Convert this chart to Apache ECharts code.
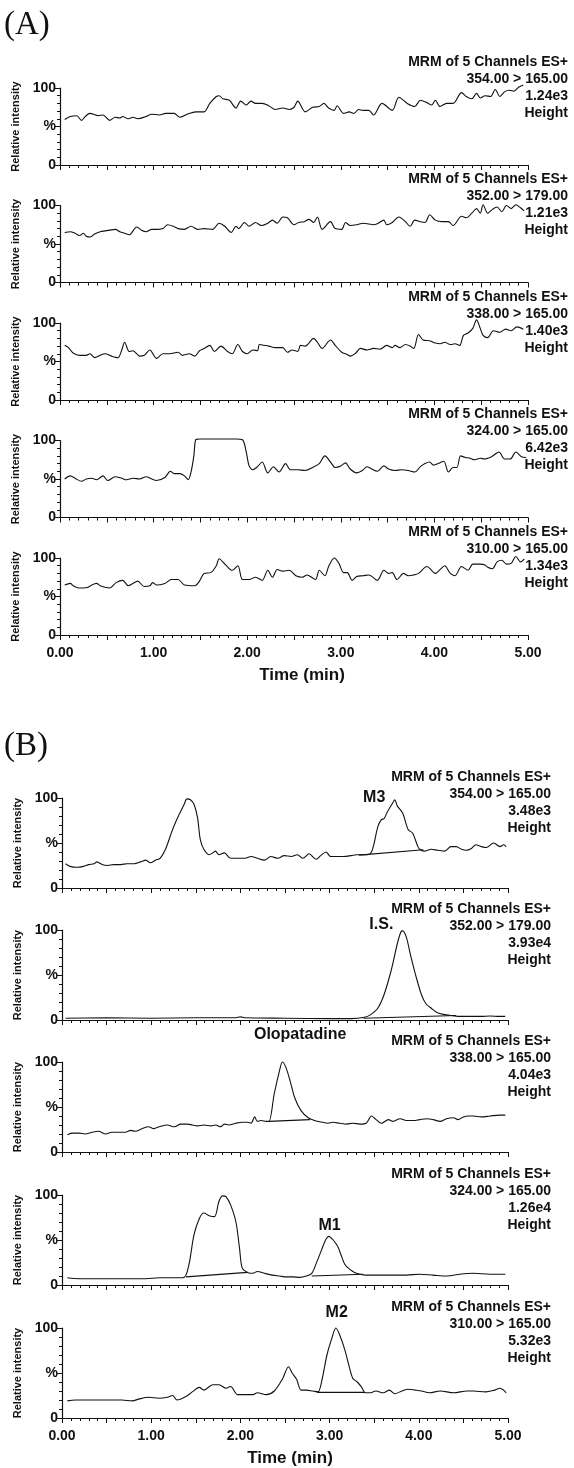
<!DOCTYPE html>
<html><head><meta charset="utf-8">
<script src="https://cdn.jsdelivr.net/npm/echarts@6/dist/echarts.min.js"></script>
<style>html,body{margin:0;padding:0;background:#fff}#c{width:574px;height:1468px}</style>
</head><body><div id="c"></div><script>
// ---------- DATA ----------
const timeTickLabels = ['0.00','1.00','2.00','3.00','4.00','5.00'];
const yTickLabels = ['0','%','100'];
const headerLine = 'MRM of 5 Channels ES+';
const channels = ['354.00 > 165.00','352.00 > 179.00','338.00 > 165.00','324.00 > 165.00','310.00 > 165.00'];
const heightsA = ['1.24e3','1.21e3','1.40e3','6.42e3','1.34e3'];
const heightsB = ['3.48e3','3.93e4','4.04e3','1.26e4','5.32e3'];

// (A) blank traces: [time(min), relative intensity %]
const traceA1 = [[0.05,59],[0.11,63],[0.18,64],[0.23,58],[0.27,63],[0.32,67],[0.41,64],[0.46,65],[0.53,58],[0.59,62],[0.64,61],[0.67,63],[0.73,60],[0.78,62],[0.83,60],[0.92,63],[0.98,66],[1.06,65],[1.13,67],[1.22,67],[1.28,62],[1.38,67],[1.45,69],[1.54,69],[1.60,80],[1.67,89],[1.70,90],[1.74,86],[1.81,84],[1.88,74],[1.93,83],[1.99,78],[2.04,83],[2.09,80],[2.16,80],[2.23,77],[2.30,72],[2.38,74],[2.45,72],[2.50,75],[2.54,83],[2.62,69],[2.70,75],[2.77,76],[2.82,80],[2.87,74],[2.93,71],[2.96,77],[3.03,67],[3.09,69],[3.14,67],[3.19,72],[3.24,71],[3.30,71],[3.35,65],[3.44,80],[3.55,71],[3.62,88],[3.71,80],[3.79,76],[3.85,84],[3.92,81],[3.97,78],[4.01,84],[4.06,76],[4.13,80],[4.20,80],[4.29,94],[4.34,89],[4.40,86],[4.45,93],[4.49,87],[4.54,90],[4.60,89],[4.65,98],[4.70,89],[4.75,95],[4.80,97],[4.85,96],[4.90,101],[4.95,104]];
const traceA2 = [[0.05,65],[0.11,66],[0.16,64],[0.21,61],[0.25,64],[0.28,60],[0.32,59],[0.37,63],[0.43,66],[0.48,67],[0.53,68],[0.59,69],[0.64,66],[0.69,64],[0.74,62],[0.82,72],[0.87,68],[0.92,66],[0.98,69],[1.05,69],[1.10,70],[1.15,75],[1.21,73],[1.26,70],[1.33,69],[1.40,73],[1.47,69],[1.54,70],[1.63,69],[1.70,77],[1.76,73],[1.83,65],[1.88,73],[1.91,70],[1.97,78],[2.02,73],[2.09,78],[2.15,74],[2.22,77],[2.27,81],[2.32,77],[2.38,85],[2.43,84],[2.50,75],[2.55,78],[2.61,79],[2.66,82],[2.71,78],[2.75,85],[2.80,69],[2.89,79],[2.94,70],[3.01,69],[3.05,78],[3.10,74],[3.17,75],[3.24,77],[3.30,76],[3.35,75],[3.40,77],[3.46,81],[3.49,75],[3.55,78],[3.62,85],[3.69,79],[3.74,73],[3.79,81],[3.85,79],[3.90,78],[3.95,88],[4.01,81],[4.08,79],[4.15,79],[4.20,74],[4.29,86],[4.34,84],[4.40,90],[4.45,96],[4.49,90],[4.52,101],[4.57,90],[4.62,95],[4.67,98],[4.72,92],[4.77,100],[4.82,96],[4.87,101],[4.92,97],[4.96,93]];
const traceA3 = [[0.05,71],[0.09,68],[0.14,61],[0.21,58],[0.28,58],[0.32,60],[0.37,55],[0.43,58],[0.48,60],[0.55,57],[0.62,55],[0.66,65],[0.69,75],[0.74,63],[0.78,64],[0.82,60],[0.85,57],[0.90,58],[0.96,65],[1.03,54],[1.10,60],[1.17,60],[1.26,62],[1.31,58],[1.38,60],[1.44,57],[1.49,64],[1.54,67],[1.60,71],[1.65,63],[1.72,70],[1.79,63],[1.84,60],[1.90,72],[1.95,63],[2.00,60],[2.06,65],[2.11,64],[2.13,72],[2.18,71],[2.23,70],[2.30,68],[2.38,68],[2.43,62],[2.48,65],[2.54,63],[2.57,71],[2.62,70],[2.71,80],[2.75,75],[2.80,67],[2.89,78],[2.94,71],[3.01,62],[3.07,59],[3.10,57],[3.16,61],[3.21,67],[3.28,65],[3.35,67],[3.42,66],[3.49,71],[3.55,68],[3.58,71],[3.63,68],[3.69,72],[3.74,70],[3.78,67],[3.83,85],[3.88,78],[3.95,77],[4.01,74],[4.06,73],[4.11,75],[4.17,72],[4.22,73],[4.27,71],[4.31,84],[4.36,87],[4.41,93],[4.45,104],[4.49,93],[4.52,84],[4.57,81],[4.63,90],[4.70,88],[4.76,92],[4.82,90],[4.88,95],[4.95,92]];
const traceA4 = [[0.05,50],[0.11,54],[0.16,51],[0.23,47],[0.28,50],[0.34,51],[0.39,49],[0.46,54],[0.51,48],[0.59,53],[0.66,51],[0.71,49],[0.78,51],[0.85,50],[0.92,53],[0.98,50],[1.03,48],[1.12,52],[1.18,60],[1.22,57],[1.28,57],[1.33,54],[1.37,49],[1.40,59],[1.43,80],[1.45,101],[1.49,102],[1.60,102],[1.74,102],[1.88,102],[1.95,101],[1.99,85],[2.02,67],[2.06,62],[2.11,66],[2.16,72],[2.22,58],[2.28,66],[2.34,59],[2.41,70],[2.46,62],[2.54,62],[2.62,61],[2.70,65],[2.77,70],[2.83,80],[2.89,72],[2.94,65],[3.00,67],[3.05,71],[3.10,63],[3.17,58],[3.23,61],[3.28,66],[3.33,63],[3.39,60],[3.46,67],[3.51,63],[3.58,61],[3.65,62],[3.72,61],[3.79,59],[3.85,66],[3.90,70],[3.95,72],[3.99,68],[4.04,70],[4.10,73],[4.15,59],[4.20,65],[4.24,65],[4.28,80],[4.33,78],[4.38,77],[4.43,75],[4.49,77],[4.54,76],[4.57,77],[4.61,79],[4.69,85],[4.75,76],[4.81,76],[4.87,85],[4.93,79],[4.98,78]];
const traceA5 = [[0.05,65],[0.11,67],[0.14,64],[0.20,61],[0.25,61],[0.30,62],[0.34,65],[0.39,67],[0.43,64],[0.48,62],[0.53,61],[0.60,68],[0.67,71],[0.73,64],[0.78,67],[0.83,70],[0.90,63],[0.96,64],[0.99,68],[1.03,65],[1.12,67],[1.19,72],[1.26,72],[1.33,65],[1.44,64],[1.49,70],[1.54,80],[1.61,81],[1.67,90],[1.70,99],[1.77,91],[1.84,84],[1.90,90],[1.95,72],[2.02,72],[2.09,75],[2.16,71],[2.22,84],[2.27,75],[2.32,85],[2.38,83],[2.45,84],[2.52,77],[2.59,75],[2.64,78],[2.73,72],[2.77,84],[2.83,77],[2.87,89],[2.93,100],[2.98,93],[3.03,81],[3.07,81],[3.12,71],[3.17,76],[3.24,77],[3.30,78],[3.39,71],[3.46,84],[3.51,80],[3.55,81],[3.60,72],[3.67,80],[3.72,77],[3.78,78],[3.83,80],[3.92,89],[4.01,80],[4.06,85],[4.11,90],[4.17,80],[4.22,77],[4.29,89],[4.36,84],[4.41,92],[4.49,92],[4.54,91],[4.57,88],[4.62,86],[4.67,95],[4.72,97],[4.77,92],[4.82,93],[4.87,102],[4.92,95],[4.96,99]];

// (B) sample traces
const traceB1 = [[0.04,27],[0.09,24],[0.17,23],[0.24,24],[0.30,26],[0.36,27],[0.39,29],[0.45,26],[0.51,25],[0.58,26],[0.66,26],[0.73,27],[0.81,27],[0.88,29],[0.94,31],[0.99,28],[1.05,31],[1.10,33],[1.16,43],[1.24,65],[1.31,81],[1.37,93],[1.40,99],[1.44,98],[1.48,93],[1.52,78],[1.55,54],[1.59,43],[1.65,37],[1.69,39],[1.72,41],[1.76,37],[1.82,39],[1.89,33],[1.97,33],[2.04,33],[2.12,35],[2.19,33],[2.27,31],[2.34,35],[2.42,33],[2.49,36],[2.57,35],[2.64,37],[2.70,33],[2.77,38],[2.85,32],[2.90,36],[2.96,40],[3.01,35],[3.09,35],[3.16,35],[3.24,36],[3.30,37],[3.37,37],[3.43,37],[3.47,40],[3.50,50],[3.54,68],[3.58,76],[3.61,77],[3.65,85],[3.71,95],[3.73,98],[3.76,91],[3.82,83],[3.88,65],[3.93,61],[3.99,46],[4.01,43],[4.06,41],[4.14,43],[4.21,42],[4.29,41],[4.36,46],[4.42,46],[4.48,43],[4.53,42],[4.59,44],[4.64,48],[4.70,46],[4.76,45],[4.84,50],[4.91,46],[4.95,48],[4.98,46]];
const traceB2 = [[0.04,2],[0.5,2.5],[1.0,2],[1.5,2.5],[1.95,2.5],[2.0,3.5],[2.05,2.5],[2.5,2],[3.0,1.5],[3.24,1.5],[3.39,3],[3.46,6],[3.54,13],[3.61,28],[3.69,55],[3.76,85],[3.80,98],[3.82,99],[3.86,92],[3.91,71],[3.97,48],[4.03,28],[4.08,18],[4.14,13],[4.21,8],[4.29,6],[4.36,5],[4.44,4],[4.51,4],[4.59,4],[4.70,4],[4.80,4.5],[4.90,4],[4.97,4]];
const traceB3 = [[0.06,19],[0.11,21],[0.19,21],[0.26,20],[0.34,22],[0.41,23],[0.49,20],[0.56,22],[0.64,22],[0.71,22],[0.77,24],[0.82,23],[0.90,26],[0.97,28],[1.03,26],[1.09,28],[1.18,30],[1.26,28],[1.33,31],[1.41,31],[1.46,30],[1.52,29],[1.59,30],[1.67,29],[1.72,30],[1.78,28],[1.82,31],[1.87,30],[1.95,32],[2.02,33],[2.08,33],[2.12,32],[2.16,39],[2.19,34],[2.23,35],[2.29,34],[2.32,34],[2.38,65],[2.44,91],[2.47,100],[2.51,94],[2.56,78],[2.61,60],[2.68,46],[2.76,38],[2.83,35],[2.92,33],[2.98,32],[3.04,33],[3.11,32],[3.19,31],[3.26,32],[3.34,31],[3.41,32],[3.47,40],[3.51,37],[3.58,32],[3.66,36],[3.71,34],[3.79,37],[3.86,35],[3.94,35],[4.01,36],[4.09,37],[4.16,36],[4.24,34],[4.31,37],[4.39,38],[4.44,36],[4.50,39],[4.56,40],[4.61,40],[4.70,39],[4.80,40],[4.90,41],[4.97,41]];
const traceB4 = [[0.06,8],[0.19,7],[0.34,7],[0.49,7],[0.64,7],[0.79,7],[0.94,7],[1.09,8],[1.24,8],[1.35,8],[1.39,11],[1.43,26],[1.48,56],[1.54,74],[1.59,80],[1.65,77],[1.71,76],[1.76,93],[1.80,99],[1.84,98],[1.89,89],[1.95,70],[1.99,41],[2.02,19],[2.08,14],[2.14,13],[2.19,15],[2.27,13],[2.36,11],[2.44,10],[2.51,9],[2.59,9],[2.66,8.5],[2.74,10],[2.80,13],[2.85,24],[2.91,39],[2.95,49],[2.99,54],[3.04,50],[3.09,43],[3.13,33],[3.17,23],[3.23,17],[3.28,14],[3.34,12],[3.41,11],[3.56,11],[3.71,11],[3.86,11],[4.01,12],[4.16,11],[4.31,10],[4.46,12],[4.61,13],[4.80,12],[4.97,12]];
const traceB5 = [[0.06,19],[0.15,20],[0.22,20],[0.34,20],[0.45,20],[0.56,20],[0.67,20],[0.79,19],[0.86,21],[0.97,23],[1.09,22],[1.18,23],[1.24,25],[1.29,20],[1.39,24],[1.46,29],[1.54,34],[1.59,31],[1.69,37],[1.76,37],[1.84,33],[1.89,35],[1.97,26],[2.06,26],[2.14,26],[2.19,28],[2.29,26],[2.38,30],[2.47,43],[2.54,57],[2.58,50],[2.63,43],[2.68,31],[2.74,31],[2.81,30],[2.87,29],[2.92,45],[2.97,70],[3.02,87],[3.07,100],[3.11,93],[3.17,76],[3.22,57],[3.26,44],[3.31,40],[3.36,34],[3.40,28],[3.45,28],[3.52,30],[3.60,28],[3.67,31],[3.73,27],[3.81,30],[3.88,32],[3.96,31],[4.03,30],[4.12,28],[4.24,30],[4.39,28],[4.54,30],[4.61,30],[4.75,29],[4.85,31],[4.91,33],[4.95,31],[4.98,28]];

// integration baselines drawn under peaks
const baselinesB = [
  [[[3.33,36.5],[4.05,42.5]]],
  [[[3.38,2],[4.42,5]]],
  [[[2.32,34],[2.78,36]]],
  [[[1.39,9],[2.08,14]], [[2.80,10],[3.38,12]]],
  [[[2.86,28.5],[3.40,28.5]]]
];
// peak annotations [time, intensity, text]
const annotationsB = [
  [[3.50,101,'M3']],
  [[3.58,106,'I.S.']],
  [[2.67,130,'Olopatadine']],
  [[3.00,66,'M1']],
  [[3.08,117,'M2']]
];

// ---------- LAYOUT ----------
const tracesA = [traceA1,traceA2,traceA3,traceA4,traceA5];
const tracesB = [traceB1,traceB2,traceB3,traceB4,traceB5];
const A_TOP = [88,205.5,323,440.5,558], A_H = 77, A_LEFT = 60, A_W = 468, A_TEXT_RIGHT = 568;
const B_TOP = [798,930,1062,1195,1328], B_H = 90, B_LEFT = 62, B_W = 446, B_TEXT_RIGHT = 551;
const INK = '#111111';
const FONT = 'Liberation Sans, Arial, sans-serif';

const grids=[], xAxes=[], yAxes=[], series=[], graphics=[];
function lineSeries(k, data, smooth){
  return {type:'line', xAxisIndex:k, yAxisIndex:k, data:data, symbol:'none', showSymbol:false,
    smooth:smooth, clip:false, silent:true, animation:false,
    lineStyle:{color:INK, width:1.1}};
}
function addPanel(left, top, width, height, showX){
  const k = grids.length;
  grids.push({left:left, top:top, width:width, height:height});
  xAxes.push({type:'value', gridIndex:k, min:0, max:5, interval:0.5,
    axisLine:{show:true, onZero:false, lineStyle:{color:INK, width:1.2}},
    axisTick:{show:true, length:5, lineStyle:{color:INK, width:1}},
    minorTick:{show:true, splitNumber:5, length:3, lineStyle:{color:INK, width:1}},
    splitLine:{show:false},
    axisLabel:{show:showX, margin:11, color:INK, fontFamily:FONT, fontWeight:'bold', fontSize:14,
      formatter:function(v){ const r=Math.round(v*2)/2; return Number.isInteger(r)? timeTickLabels[r] : ''; }}
  });
  yAxes.push({type:'value', gridIndex:k, min:0, max:100, interval:50,
    axisLine:{show:true, onZero:false, lineStyle:{color:INK, width:1.2}},
    axisTick:{show:true, length:5, lineStyle:{color:INK, width:1}},
    minorTick:{show:true, splitNumber:5, length:3, lineStyle:{color:INK, width:1}},
    splitLine:{show:false},
    axisLabel:{margin:4, color:INK, fontFamily:FONT, fontWeight:'bold', fontSize:14,
      formatter:function(v){ return yTickLabels[Math.round(v/50)]; }},
    name:'Relative intensity', nameLocation:'middle', nameRotate:90, nameGap:33,
    nameTextStyle:{color:INK, fontFamily:FONT, fontWeight:'bold', fontSize:11}
  });
  return k;
}
function headerText(x, y, txt){
  graphics.push({type:'text', x:x, y:y, silent:true,
    style:{text:txt, align:'right', textAlign:'right', verticalAlign:'top', textVerticalAlign:'top',
      font:'bold 14px ' + FONT, fill:INK, lineHeight:17}});
}

tracesA.forEach(function(tr,i){
  const k = addPanel(A_LEFT, A_TOP[i], A_W, A_H, i===4);
  series.push(lineSeries(k, tr, 0.3));
  headerText(A_TEXT_RIGHT, A_TOP[i]-34.5, [headerLine, channels[i], heightsA[i], 'Height'].join('\n'));
});
tracesB.forEach(function(tr,i){
  const k = addPanel(B_LEFT, B_TOP[i], B_W, B_H, i===4);
  series.push(lineSeries(k, tr, 0.3));
  baselinesB[i].forEach(function(seg){ series.push(lineSeries(k, seg, false)); });
  series.push({type:'scatter', xAxisIndex:k, yAxisIndex:k, data:annotationsB[i], symbolSize:0, clip:false,
    silent:true, animation:false, itemStyle:{color:INK},
    label:{show:true, position:'top', distance:0, align:'center', verticalAlign:'middle',
      color:INK, textBorderWidth:0, textBorderColor:'transparent', opacity:1,
      fontFamily:FONT, fontWeight:'bold', fontSize:16,
      formatter:function(p){ return p.value[2]; }}});
  headerText(B_TEXT_RIGHT, B_TOP[i]-29.5, [headerLine, channels[i], heightsB[i], 'Height'].join('\n'));
});

// panel letters and axis titles
graphics.push({type:'text', x:4, y:25, silent:true,
  style:{text:'(A)', font:'33px Liberation Serif, Times New Roman, serif', fill:INK, verticalAlign:'middle', textVerticalAlign:'middle'}});
graphics.push({type:'text', x:4, y:746, silent:true,
  style:{text:'(B)', font:'33px Liberation Serif, Times New Roman, serif', fill:INK, verticalAlign:'middle', textVerticalAlign:'middle'}});
graphics.push({type:'text', x:302, y:675, silent:true,
  style:{text:'Time (min)', font:'bold 17px ' + FONT, fill:INK, align:'center', textAlign:'center', verticalAlign:'middle', textVerticalAlign:'middle'}});
graphics.push({type:'text', x:290, y:1458, silent:true,
  style:{text:'Time (min)', font:'bold 17px ' + FONT, fill:INK, align:'center', textAlign:'center', verticalAlign:'middle', textVerticalAlign:'middle'}});

const chart = echarts.init(document.getElementById('c'), null, {renderer:'canvas'});
chart.setOption({animation:false, backgroundColor:'#fff', grid:grids, xAxis:xAxes, yAxis:yAxes, series:series, graphic:graphics});
</script></body></html>
